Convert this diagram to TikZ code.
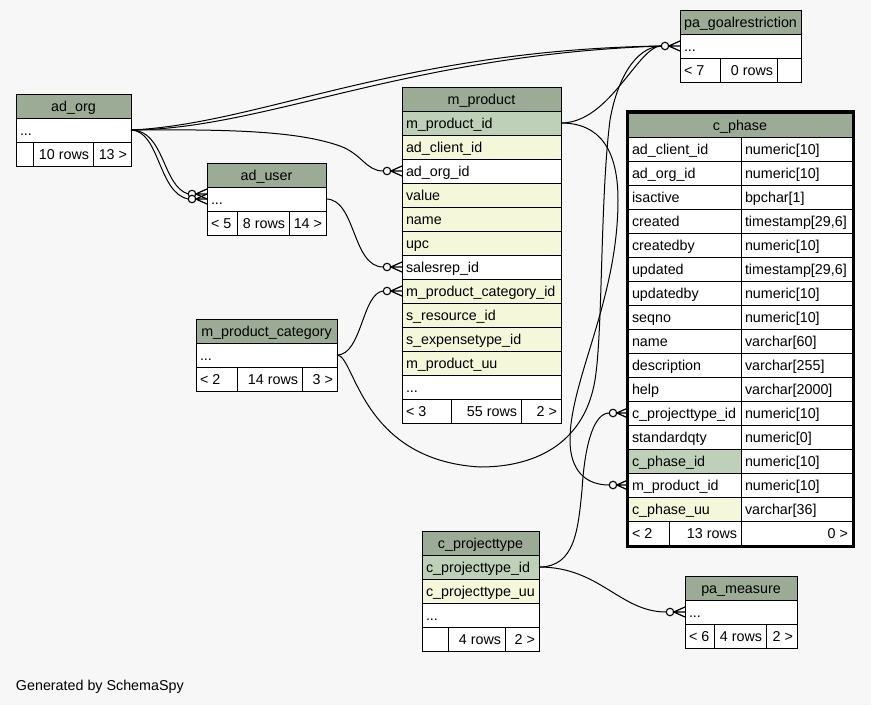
\documentclass[tikz,border=0pt]{standalone}
\usepackage{fontspec}
\setmainfont{Liberation Sans}
\usetikzlibrary{calc}
\definecolor{bg}{HTML}{F7F7F7}
\definecolor{hdr}{HTML}{9CAB96}
\definecolor{pk}{HTML}{BED1B8}
\definecolor{yl}{HTML}{F4F7DA}
\tikzset{
 cellbox/.style={draw=black, line width=1pt, anchor=north west, minimum height=24pt, inner sep=0pt, outer sep=0pt},
 txt/.style={inner sep=0pt, outer sep=0pt, font=\fontsize{14.3}{16}\selectfont},
 edge/.style={draw=black, line width=1pt},
 ocirc/.style={circle, draw=black, line width=1.1pt, fill=bg, minimum size=7.5pt, inner sep=0pt, outer sep=0pt},
 crowline/.style={draw=black, line width=1.2pt},
}
\newcommand\cellL[6]{\node[cellbox,fill=#5,minimum width=#4pt] (#1) at (#2,#3) {};
 \node[txt,anchor=base west] (#1t) at ($(#1.west)+(4,5)$) {#6};}
\newcommand\cellR[6]{\node[cellbox,fill=#5,minimum width=#4pt] (#1) at (#2,#3) {};
 \node[txt,anchor=base east] (#1t) at ($(#1.east)+(-4,5)$) {#6};}
\newcommand\cellC[6]{\node[cellbox,fill=#5,minimum width=#4pt] (#1) at (#2,#3) {};
 \node[txt,anchor=base] (#1t) at ($(#1.center)+(0,5)$) {#6};}
\newcommand\crow[2]{%
 \draw[crowline] let \p1=(#1.east), \p2=(#2.west) in
   (\x2,{\y1+5pt}) -- (\p1) -- (\x2,{\y1-5pt}) (\p1) -- (\x2,\y1);}
\begin{document}
\begin{tikzpicture}[x=1pt,y=-1pt]
\useasboundingbox (0,0) rectangle (871,705);
\fill[bg] (0,0) rectangle (871,705);

% ad_org
\cellC{ao-h}{16}{94}{115}{hdr}{ad\_org}
\cellL{ao-r}{16}{118}{115}{white}{...}
\cellL{ao-f1}{16}{142}{17}{white}{}
\cellR{ao-f2}{33}{142}{60}{white}{10 rows}
\cellR{ao-f3}{93}{142}{38}{white}{13 >}

% ad_user
\cellC{au-h}{207}{163}{119}{hdr}{ad\_user}
\cellL{au-r}{207}{187}{119}{white}{...}
\cellL{au-f1}{207}{211}{30}{white}{< 5}
\cellR{au-f2}{237}{211}{52}{white}{8 rows}
\cellR{au-f3}{289}{211}{37}{white}{14 >}

% m_product
\cellC{mp-h}{402}{87}{159}{hdr}{m\_product}
\cellL{mp-1}{402}{111}{159}{pk}{m\_product\_id}
\cellL{mp-2}{402}{135}{159}{yl}{ad\_client\_id}
\cellL{mp-3}{402}{159}{159}{white}{ad\_org\_id}
\cellL{mp-4}{402}{183}{159}{yl}{value}
\cellL{mp-5}{402}{207}{159}{yl}{name}
\cellL{mp-6}{402}{231}{159}{yl}{upc}
\cellL{mp-7}{402}{255}{159}{white}{salesrep\_id}
\cellL{mp-8}{402}{279}{159}{yl}{m\_product\_category\_id}
\cellL{mp-9}{402}{303}{159}{yl}{s\_resource\_id}
\cellL{mp-10}{402}{327}{159}{yl}{s\_expensetype\_id}
\cellL{mp-11}{402}{351}{159}{yl}{m\_product\_uu}
\cellL{mp-12}{402}{375}{159}{white}{...}
\cellL{mp-f1}{402}{399}{49}{white}{< 3}
\cellR{mp-f2}{451}{399}{70}{white}{55 rows}
\cellR{mp-f3}{521}{399}{40}{white}{2 >}

% m_product_category
\cellC{mc-h}{196}{319}{141}{hdr}{m\_product\_category}
\cellL{mc-r}{196}{343}{141}{white}{...}
\cellL{mc-f1}{196}{367}{41}{white}{< 2}
\cellR{mc-f2}{237}{367}{65}{white}{14 rows}
\cellR{mc-f3}{302}{367}{35}{white}{3 >}

% pa_goalrestriction
\cellC{pg-h}{680}{10}{121}{hdr}{pa\_goalrestriction}
\cellL{pg-r}{680}{34}{121}{white}{...}
\cellL{pg-f1}{680}{58}{40}{white}{< 7}
\cellR{pg-f2}{720}{58}{57}{white}{0 rows}
\cellR{pg-f3}{777}{58}{24}{white}{}

% c_phase
\cellC{cp-h}{628}{113}{224}{hdr}{c\_phase}
\cellL{cp-a1}{628}{137}{113}{white}{ad\_client\_id}  \cellL{cp-b1}{741}{137}{111}{white}{numeric[10]}
\cellL{cp-a2}{628}{161}{113}{white}{ad\_org\_id}     \cellL{cp-b2}{741}{161}{111}{white}{numeric[10]}
\cellL{cp-a3}{628}{185}{113}{white}{isactive}        \cellL{cp-b3}{741}{185}{111}{white}{bpchar[1]}
\cellL{cp-a4}{628}{209}{113}{white}{created}         \cellL{cp-b4}{741}{209}{111}{white}{timestamp[29,6]}
\cellL{cp-a5}{628}{233}{113}{white}{createdby}       \cellL{cp-b5}{741}{233}{111}{white}{numeric[10]}
\cellL{cp-a6}{628}{257}{113}{white}{updated}         \cellL{cp-b6}{741}{257}{111}{white}{timestamp[29,6]}
\cellL{cp-a7}{628}{281}{113}{white}{updatedby}       \cellL{cp-b7}{741}{281}{111}{white}{numeric[10]}
\cellL{cp-a8}{628}{305}{113}{white}{seqno}           \cellL{cp-b8}{741}{305}{111}{white}{numeric[10]}
\cellL{cp-a9}{628}{329}{113}{white}{name}            \cellL{cp-b9}{741}{329}{111}{white}{varchar[60]}
\cellL{cp-a10}{628}{353}{113}{white}{description}    \cellL{cp-b10}{741}{353}{111}{white}{varchar[255]}
\cellL{cp-a11}{628}{377}{113}{white}{help}           \cellL{cp-b11}{741}{377}{111}{white}{varchar[2000]}
\cellL{cp-a12}{628}{401}{113}{white}{c\_projecttype\_id} \cellL{cp-b12}{741}{401}{111}{white}{numeric[10]}
\cellL{cp-a13}{628}{425}{113}{white}{standardqty}    \cellL{cp-b13}{741}{425}{111}{white}{numeric[0]}
\cellL{cp-a14}{628}{449}{113}{pk}{c\_phase\_id}      \cellL{cp-b14}{741}{449}{111}{white}{numeric[10]}
\cellL{cp-a15}{628}{473}{113}{white}{m\_product\_id} \cellL{cp-b15}{741}{473}{111}{white}{numeric[10]}
\cellL{cp-a16}{628}{497}{113}{yl}{c\_phase\_uu}      \cellL{cp-b16}{741}{497}{111}{white}{varchar[36]}
\cellL{cp-f1}{628}{521}{41}{white}{< 2}
\cellR{cp-f2}{669}{521}{72}{white}{13 rows}
\cellR{cp-f3}{741}{521}{111}{white}{0 >}
\draw[line width=3pt] (cp-h.north west) ++(-1,-1.5) rectangle ($(cp-f3.south east)+(1,1.5)$);

% c_projecttype
\cellC{ct-h}{422}{531}{117}{hdr}{c\_projecttype}
\cellL{ct-1}{422}{555}{117}{pk}{c\_projecttype\_id}
\cellL{ct-2}{422}{579}{117}{yl}{c\_projecttype\_uu}
\cellL{ct-3}{422}{603}{117}{white}{...}
\cellL{ct-f1}{422}{627}{26}{white}{}
\cellR{ct-f2}{448}{627}{57}{white}{4 rows}
\cellR{ct-f3}{505}{627}{34}{white}{2 >}

% pa_measure
\cellC{pm-h}{685}{576}{112}{hdr}{pa\_measure}
\cellL{pm-r}{685}{600}{112}{white}{...}
\cellL{pm-f1}{685}{624}{29}{white}{< 6}
\cellR{pm-f2}{714}{624}{52}{white}{4 rows}
\cellR{pm-f3}{766}{624}{31}{white}{2 >}

% footer text
\node[txt,anchor=base west] (gen) at (16,690) {Generated by SchemaSpy};

% circles at child ends
\node[ocirc] (cg) at (665,46) {};
\node[ocirc] (ca) at (387,171) {};
\node[ocirc] (cu1) at (192,194) {};
\node[ocirc] (cu2) at (192,199) {};
\node[ocirc] (cs) at (387,267) {};
\node[ocirc] (cc) at (387,291) {};
\node[ocirc] (cpt) at (613,413) {};
\node[ocirc] (cpm) at (613,485) {};
\node[ocirc] (cme) at (670,612) {};

% edges
\draw[edge] (ao-r.east) .. controls (260,124) and (400,50) .. (cg.west);
\draw[edge] (ao-r.east) .. controls (266,129) and (405,55) .. (cg.west);
\draw[edge] (ao-r.east) .. controls (240,129) and (300,132) .. (340,146) .. controls (362,154) and (366,171) .. (ca.west);
\draw[edge] (ao-r.east) .. controls (165,130) and (162,186) .. (cu1.west);
\draw[edge] (ao-r.east) .. controls (160,131) and (158,193) .. (cu2.west);
\draw[edge] (au-r.east) .. controls (356,199) and (352,267) .. (cs.west);
\draw[edge] (mc-r.east) .. controls (362,355) and (362,293) .. (cc.west);
\draw[edge] (mc-r.east) .. controls (355,355) and (360,460) .. (480,467)
   .. controls (540,467) and (585,440) .. (595,380)
   .. controls (603,330) and (600,200) .. (610,120)
   .. controls (617,80) and (635,47) .. (cg.west);
\draw[edge] (mp-1.east) .. controls (600,123) and (618,150) .. (618,200)
   .. controls (618,300) and (570,380) .. (570,440)
   .. controls (570,470) and (585,485) .. (cpm.west);
\draw[edge] (mp-1.east) .. controls (610,123) and (638,46) .. (cg.west);
\draw[edge] (ct-1.east) .. controls (575,567) and (578,530) .. (582,490)
   .. controls (585,440) and (595,413) .. (cpt.west);
\draw[edge] (ct-1.east) .. controls (600,567) and (620,612) .. (cme.west);

% crow's feet
\crow{cg}{pg-r}
\crow{ca}{mp-3}
\crow{cu1}{au-r}
\crow{cu2}{au-r}
\crow{cs}{mp-7}
\crow{cc}{mp-8}
\crow{cpt}{cp-a12}
\crow{cpm}{cp-a15}
\crow{cme}{pm-r}
\end{tikzpicture}
\end{document}
